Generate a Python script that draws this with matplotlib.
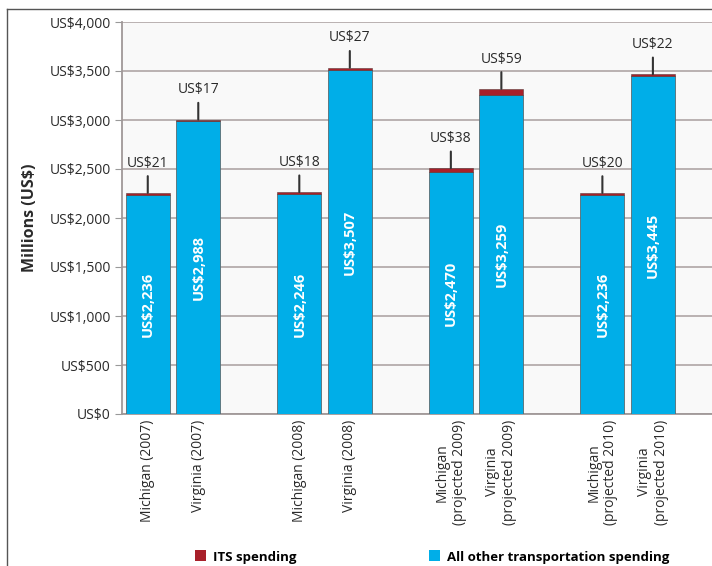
import matplotlib
matplotlib.use("Agg")
import matplotlib.pyplot as plt
from matplotlib.patches import Patch
from matplotlib.lines import Line2D
from matplotlib.ticker import FuncFormatter

plt.rcParams['font.family'] = ['Open Sans', 'DejaVu Sans']

categories = ["Michigan (2007)", "Virginia (2007)", "Michigan (2008)", "Virginia (2008)",
              "Michigan\n(projected 2009)", "Virginia\n(projected 2009)",
              "Michigan\n(projected 2010)", "Virginia\n(projected 2010)"]
other_spending = [2236, 2988, 2246, 3507, 2470, 3259, 2236, 3445]
its_spending = [21, 17, 18, 27, 38, 59, 20, 22]
positions = [0, 1, 3, 4, 6, 7, 9, 10]
yticks = [0, 500, 1000, 1500, 2000, 2500, 3000, 3500, 4000]

blue = "#00AEE8"
red = "#A8202A"
txt = "#2a2a2a"

fig = plt.figure(figsize=(7.12, 5.66), dpi=100)
ax = fig.add_axes([122/712, 1-414/566, 1-122/712, (414-22)/566])
ax.set_facecolor("#F9F9F9")

w = 0.87
ax.bar(positions, other_spending, width=w, color=blue, edgecolor="#5a6a70", linewidth=0.6, zorder=3)
ax.bar(positions, its_spending, width=w, bottom=other_spending, color=red, edgecolor="#5a3a3a", linewidth=0.4, zorder=3)

for x, o, s in zip(positions, other_spending, its_spending):
    ax.text(x, o/2, f"US${o:,}", rotation=90, ha='center', va='center', color='white',
            fontsize=10.5, fontweight='bold', zorder=4)
    ax.annotate(f"US${s}", xy=(x, o+s), xytext=(0, 16), textcoords='offset points',
                ha='center', va='bottom', fontsize=10, color=txt,
                arrowprops=dict(arrowstyle='-', color='#333333', lw=1.5, shrinkA=2, shrinkB=0),
                zorder=5)

ax.set_ylim(0, 4000)
ax.set_xlim(-0.51, 11.17)
ax.set_yticks(yticks)
ax.yaxis.set_major_formatter(FuncFormatter(lambda v, p: f"US${int(v):,}"))
ax.set_xticks(positions)
ax.set_xticklabels(categories, rotation=90, fontsize=10, color=txt, ha='center', va='top', multialignment='center')
ax.tick_params(axis='x', length=0, pad=4)
ax.tick_params(axis='y', length=5, color='#999999', labelsize=10, labelcolor=txt, pad=3)
ax.grid(axis='y', color='#B5ACAC', linewidth=1.3, zorder=0)
ax.set_axisbelow(True)
for sp in ['top', 'right']:
    ax.spines[sp].set_visible(False)
for sp in ['left', 'bottom']:
    ax.spines[sp].set_color('#A09898')
    ax.spines[sp].set_linewidth(1.3)
ax.set_ylabel("Millions (US$)", fontsize=11.5, fontweight='bold', color=txt, labelpad=8)

handles = [Patch(facecolor=red, edgecolor='none'), Patch(facecolor=blue, edgecolor='none')]
fig.legend(handles, ["ITS spending", "All other transportation spending"], ncol=2,
           loc='center', bbox_to_anchor=(432/712, 1-557/566), frameon=False,
           prop={'size': 9.5, 'weight': 'bold'}, handlelength=0.9, handleheight=0.9,
           handletextpad=0.5, columnspacing=10)

fig.add_artist(Line2D([7/712, 7/712], [0, 1-9/566], color='#555555', lw=1, transform=fig.transFigure))
fig.add_artist(Line2D([7/712, 1], [1-9/566, 1-9/566], color='#555555', lw=1, transform=fig.transFigure))

fig.savefig("out.png", dpi=100)
